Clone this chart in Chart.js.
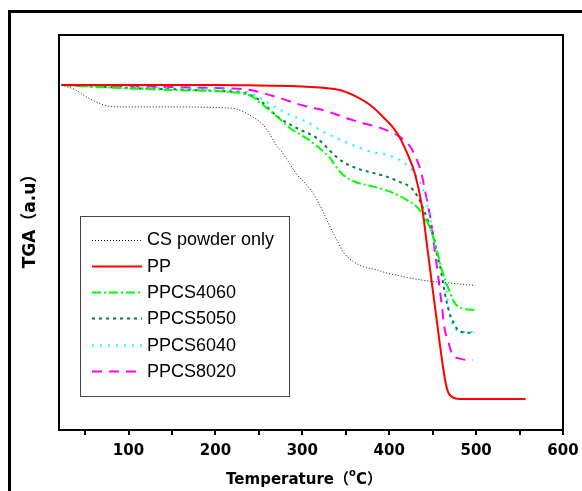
<!DOCTYPE html>
<html>
<head>
<meta charset="utf-8">
<script src="https://cdn.jsdelivr.net/npm/chart.js@4.4.1/dist/chart.umd.min.js"></script>
<style>
html,body{margin:0;padding:0;background:#fff;}
canvas{display:block;}
</style>
</head>
<body>
<canvas id="c" width="582" height="491" style="width:582px;height:491px"></canvas>
<script>
// ---- data (temperature in °C, TGA in arbitrary units ~ weight %) ----
const seriesNames = ['CS powder only', 'PP', 'PPCS4060', 'PPCS5050', 'PPCS6040', 'PPCS8020'];

const csTemp = [23, 39, 54, 69, 81, 100, 131, 160, 188, 210, 223, 232, 248, 255, 263, 270, 276, 284, 294, 303, 315, 322, 332, 340, 347, 359, 370, 386, 397, 412, 432, 450, 470, 499];
const csTGA  = [100, 98.4, 95.8, 93.9, 93.1, 93.0, 93.0, 93.0, 92.9, 92.7, 92.4, 91.5, 88.9, 87.3, 84.1, 80.8, 78.8, 75.6, 71.3, 68.8, 64.4, 60.7, 54.8, 50.5, 46.8, 43.7, 42.1, 41.1, 40.1, 39.2, 38.1, 37.4, 36.9, 36.1];

const ppTemp = [23, 100, 200, 250, 300, 343, 358, 378, 393, 409, 420, 430, 438, 443, 446, 450, 454, 458, 462, 465, 468, 473, 481, 557];
const ppTGA  = [100, 100, 100, 99.8, 99.5, 98.4, 96.8, 93.6, 89.8, 84.7, 78.7, 71.3, 60.8, 50.0, 43.5, 35.0, 26.5, 18.0, 10.0, 5.0, 2.0, 0.5, 0, 0];

const p4060Temp = [23, 60, 100, 150, 200, 217, 240, 257, 271, 286, 305, 320, 332, 340, 347, 362, 382, 401, 420, 431.5, 439, 447, 454.5, 460, 468, 475.5, 483, 500];
const p4060TGA  = [100, 99.4, 98.9, 98.4, 98.0, 97.7, 96.6, 93.1, 89.9, 86.2, 83.0, 79.8, 76.7, 73.5, 71.3, 69.0, 67.6, 66.0, 63.4, 61.2, 58.6, 54.4, 47.8, 41.7, 35.3, 30.5, 28.9, 28.3];

const p5050Temp = [23, 60, 100, 150, 200, 217, 240, 255, 263, 274, 294, 317, 332, 340, 350, 365, 380, 397, 412, 424, 431.5, 439, 445, 452.5, 456, 459, 462, 466, 470, 473.5, 479, 489, 498.5];
const p5050TGA  = [100, 99.5, 99.0, 98.6, 98.1, 97.9, 96.8, 94.2, 92.0, 89.4, 86.2, 83.0, 79.0, 76.9, 75.0, 73.2, 72.1, 70.8, 69.1, 67.5, 65.0, 60.7, 56.4, 50.1, 44.9, 41.7, 36.8, 31.0, 26.8, 24.6, 22.0, 21.1, 21.1];

const p6040Temp = [23, 60, 100, 150, 200, 217, 240, 255, 271, 286, 305, 320, 340, 362, 378, 397, 412, 424, 433, 441, 447, 452.5, 458, 464, 468, 470, 475.5, 483, 498.5];
const p6040TGA  = [100, 99.7, 99.3, 98.9, 98.6, 98.4, 97.4, 95.2, 92.6, 90.4, 88.3, 85.7, 83.0, 80.4, 78.8, 77.7, 76.1, 73.5, 70.3, 65.0, 57.6, 49.0, 42.7, 37.5, 30.0, 26.2, 22.5, 21.4, 21.3];

const p8020Temp = [23, 60, 100, 150, 200, 217, 240, 255, 274, 305, 324, 351, 370, 386, 401, 412, 424, 431.5, 437, 441, 445, 449, 452.5, 456, 458.5, 461, 463, 468, 473.5, 479, 491, 496];
const p8020TGA  = [100, 99.8, 99.6, 99.3, 99.0, 98.9, 98.4, 97.4, 95.8, 93.1, 92.0, 89.4, 87.8, 86.7, 85.1, 83.5, 80.4, 76.4, 71.9, 66.6, 61.1, 55.0, 47.0, 40.0, 34.2, 28.9, 23.6, 18.2, 13.7, 13.0, 12.4, 12.4];

const xTickValues = [50, 100, 150, 200, 250, 300, 350, 400, 450, 500, 550, 600];
const xTickLabels = ['', '100', '', '200', '', '300', '', '400', '', '500', '', '600'];

// ---- build ----
function pts(t, v) { return t.map((x, i) => ({ x: x, y: v[i] })); }

const FONT = "'Liberation Sans', Arial, 'Noto Sans CJK SC', sans-serif";
const BFONT = "'DejaVu Sans', 'Noto Sans CJK SC', sans-serif";

const styles = [
  { color: '#111111', width: 1, dash: [1, 2] },
  { color: '#ff0000', width: 2, dash: [] },
  { color: '#00ff00', width: 2, dash: [9, 3, 2, 3] },
  { color: '#008040', width: 2, dash: [3, 4] },
  { color: '#00ffff', width: 2, dash: [2, 6] },
  { color: '#ff00ff', width: 2, dash: [10, 7] }
];
const allData = [pts(csTemp, csTGA), pts(ppTemp, ppTGA), pts(p4060Temp, p4060TGA),
                 pts(p5050Temp, p5050TGA), pts(p6040Temp, p6040TGA), pts(p8020Temp, p8020TGA)];

const datasets = seriesNames.map((n, i) => ({
  label: n,
  data: allData[i],
  borderColor: styles[i].color,
  borderWidth: styles[i].width,
  borderDash: styles[i].dash,
  pointRadius: 0,
  fill: false,
  cubicInterpolationMode: 'monotone'
}));

const decor = {
  id: 'decor',
  afterDraw(chart) {
    const ctx = chart.ctx, ca = chart.chartArea;
    ctx.save();
    // outer frame
    ctx.strokeStyle = '#000'; ctx.lineWidth = 3; ctx.setLineDash([]);
    ctx.strokeRect(9.5, 11.5, 600, 500);
    // plot frame
    ctx.lineWidth = 2;
    ctx.strokeRect(ca.left, ca.top, ca.right - ca.left, ca.bottom - ca.top);

    // legend
    const lx = 80.5, ly = 216.5, lw = 209, lh = 180;
    ctx.lineWidth = 1; ctx.strokeStyle = '#444';
    ctx.strokeRect(lx, ly, lw, lh);
    ctx.font = '18px ' + FONT; ctx.fillStyle = '#000'; ctx.textBaseline = 'middle'; ctx.textAlign = 'left';
    chart.data.datasets.forEach((ds, i) => {
      const y = 239.5 + i * 26.3;
      ctx.beginPath();
      ctx.strokeStyle = ds.borderColor; ctx.lineWidth = ds.borderWidth; ctx.setLineDash(ds.borderDash);
      ctx.moveTo(92, Math.round(y) + 0.5); ctx.lineTo(142, Math.round(y) + 0.5); ctx.stroke();
      ctx.setLineDash([]);
      ctx.fillText(ds.label, 147, y + 1);
    });

    // y title
    ctx.save();
    ctx.translate(31, 217);
    ctx.rotate(-Math.PI / 2);
    ctx.font = 'bold 17px ' + BFONT; ctx.textAlign = 'center'; ctx.textBaseline = 'middle';
    ctx.fillText('TGA（a.u）', 0, 0);
    ctx.restore();

    // x title with superscript
    ctx.textBaseline = 'alphabetic'; ctx.textAlign = 'left';
    const fMain = 'bold 15px ' + BFONT, fSup = 'bold 10px ' + BFONT;
    const parts = [['Temperature（', fMain, 0], ['o', fSup, -8], ['C）', fMain, 0]];
    let total = 0;
    parts.forEach(p => { ctx.font = p[1]; total += ctx.measureText(p[0]).width; });
    let x = 304 - total / 2;
    parts.forEach(p => { ctx.font = p[1]; ctx.fillText(p[0], x, 484 + p[2]); x += ctx.measureText(p[0]).width; });
    ctx.restore();
  }
};

new Chart(document.getElementById('c'), {
  type: 'line',
  data: { datasets: datasets },
  options: {
    responsive: false,
    animation: false,
    layout: { padding: { left: 59, top: 35, right: 19, bottom: 30 } },
    plugins: { legend: { display: false }, tooltip: { enabled: false } },
    scales: {
      x: {
        type: 'linear', min: 20, max: 600,
        afterBuildTicks: ax => { ax.ticks = xTickValues.map(v => ({ value: v })); },
        afterFit: s => { s.height = 31; s.paddingLeft = 0; s.paddingRight = 0; },
        ticks: {
          autoSkip: false, maxRotation: 0, padding: 7, color: '#000',
          font: { family: BFONT, size: 15, weight: 'bold' },
          callback: (v, i) => xTickLabels[i]
        },
        grid: { drawOnChartArea: false, drawTicks: true, tickLength: 5, color: '#000', lineWidth: 2 },
        border: { display: false }
      },
      y: { display: false, min: -9.9, max: 115.9 }
    }
  },
  plugins: [decor]
});
</script>
</body>
</html>
